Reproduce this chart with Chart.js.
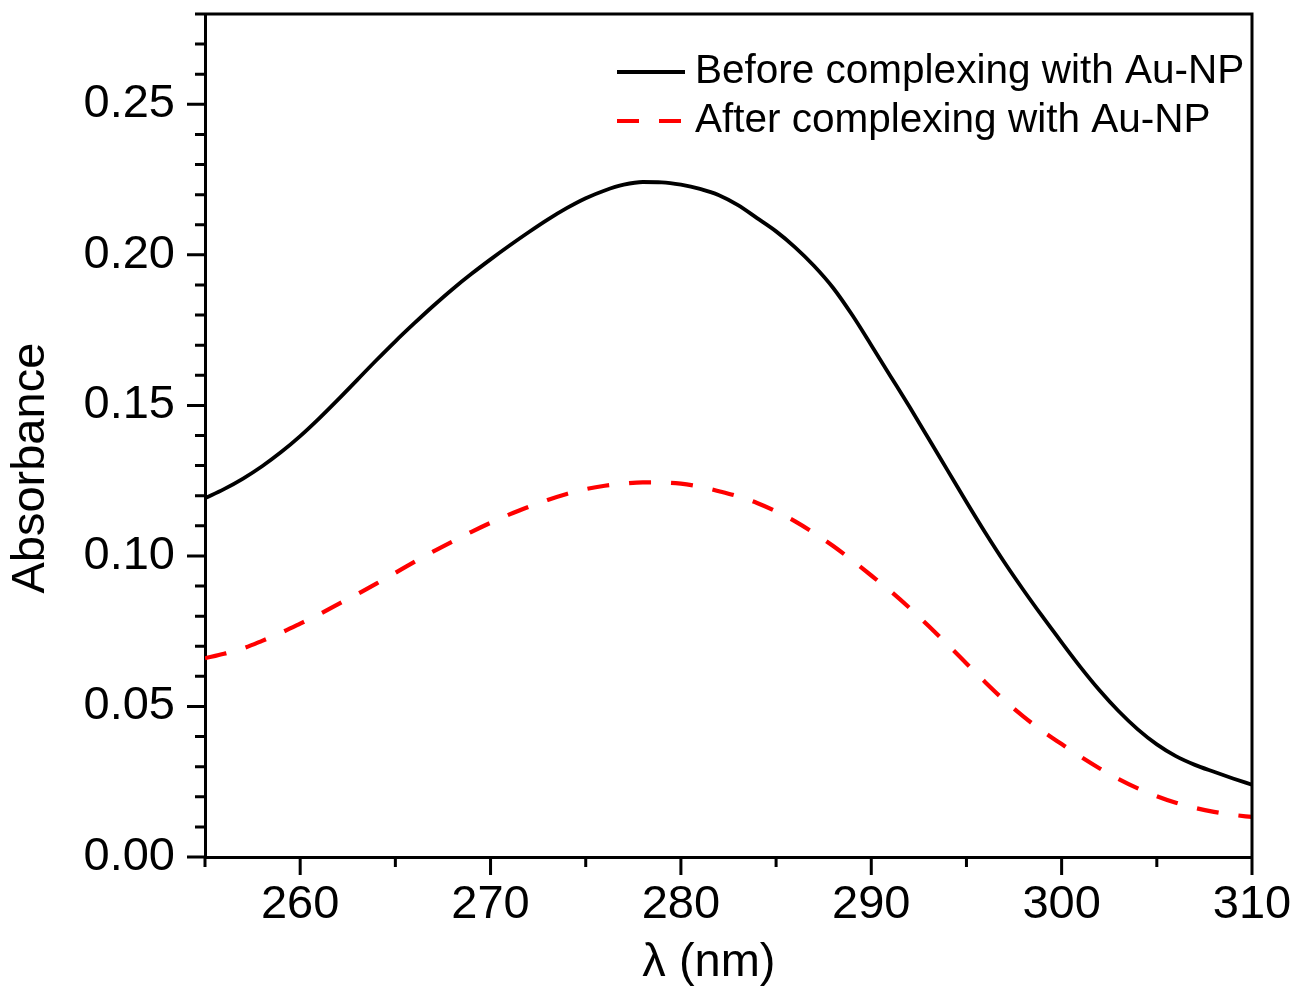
<!DOCTYPE html>
<html>
<head>
<meta charset="utf-8">
<script src="https://cdn.jsdelivr.net/npm/chart.js@4.4.0/dist/chart.umd.min.js"></script>
<style>
html,body{margin:0;padding:0;background:#ffffff;}
#wrap{width:1295px;height:987px;position:relative;}
</style>
</head>
<body>
<div id="wrap"><canvas id="c" width="1295" height="987"></canvas></div>
<script>
// ---- data ----
const wavelengths = [255,256,257,258,259,260,261,262,263,264,265,266,267,268,269,270,271,272,273,274,275,276,277,278,279,280,281,282,283,284,285,286,287,288,289,290,291,292,293,294,295,296,297,298,299,300,301,302,303,304,305,306,307,308,309,310];
const beforeAbs = [0.1192,0.1222,0.1257,0.1298,0.1345,0.1398,0.1457,0.1520,0.1585,0.1650,0.1713,0.1773,0.1831,0.1886,0.1937,0.1985,0.2031,0.2075,0.2117,0.2155,0.2188,0.2214,0.2233,0.2242,0.2241,0.2233,0.2219,0.2198,0.2165,0.2122,0.2078,0.2025,0.1963,0.1890,0.1800,0.1700,0.1598,0.1496,0.1391,0.1285,0.1179,0.1076,0.0978,0.0886,0.0798,0.0713,0.0630,0.0553,0.0484,0.0424,0.0374,0.0335,0.0306,0.0283,0.0261,0.0240];
const afterAbs = [0.0660,0.0675,0.0693,0.0718,0.0745,0.0775,0.0806,0.0840,0.0873,0.0908,0.0944,0.0980,0.1015,0.1048,0.1080,0.1110,0.1138,0.1163,0.1186,0.1206,0.1222,0.1233,0.1240,0.1244,0.1244,0.1240,0.1230,0.1215,0.1198,0.1176,0.1148,0.1115,0.1076,0.1033,0.0985,0.0935,0.0884,0.0828,0.0768,0.0706,0.0643,0.0580,0.0520,0.0466,0.0418,0.0375,0.0333,0.0294,0.0259,0.0228,0.0202,0.0180,0.0163,0.0150,0.0140,0.0133];
const seriesLabels = ['Before complexing with Au-NP', 'After complexing with Au-NP'];
const xTickValues = [260,270,280,290,300,310];
const xMinorTicks = [255,265,275,285,295,305];
const yTickValues = [0.00,0.05,0.10,0.15,0.20,0.25];
const yMinorTicks = [0.01,0.02,0.03,0.04,0.06,0.07,0.08,0.09,0.11,0.12,0.13,0.14,0.16,0.17,0.18,0.19,0.21,0.22,0.23,0.24,0.26,0.27,0.28];
const xTitle = 'λ (nm)   ';
const yTitle = 'Absorbance     ';

const FONT = '"Liberation Sans", Arial, Helvetica, sans-serif';

const frameTicks = {
  id: 'frameTicks',
  afterDraw(chart) {
    const {ctx, chartArea: a, scales: {x, y}} = chart;
    ctx.save();
    ctx.strokeStyle = '#000';
    ctx.lineWidth = 3;
    ctx.lineCap = 'butt';
    ctx.beginPath();
    ctx.moveTo(a.left - 1.5, a.top);
    ctx.lineTo(a.right, a.top);
    ctx.moveTo(a.right, a.top - 1.5);
    ctx.lineTo(a.right, a.bottom);
    // y ticks (outward, left)
    yTickValues.forEach(v => { const p = y.getPixelForValue(v); ctx.moveTo(a.left, p); ctx.lineTo(a.left - 18, p); });
    yMinorTicks.forEach(v => { const p = y.getPixelForValue(v); ctx.moveTo(a.left, p); ctx.lineTo(a.left - 10, p); });
    // x ticks (outward, down)
    xTickValues.forEach(v => { const p = x.getPixelForValue(v); ctx.moveTo(p, a.bottom); ctx.lineTo(p, a.bottom + 18); });
    xMinorTicks.forEach(v => { const p = x.getPixelForValue(v); ctx.moveTo(p, a.bottom); ctx.lineTo(p, a.bottom + 10); });
    ctx.stroke();

    // legend
    const rows = [72, 121];
    chart.data.datasets.forEach((ds, i) => {
      const yy = rows[i];
      ctx.beginPath();
      ctx.strokeStyle = ds.borderColor;
      ctx.lineWidth = ds.borderWidth;
      ctx.setLineDash(ds.borderDash || []);
      ctx.moveTo(617, yy);
      ctx.lineTo(685, yy);
      ctx.stroke();
      ctx.setLineDash([]);
      ctx.fillStyle = '#000';
      ctx.font = '40.5px ' + FONT;
      ctx.textAlign = 'left';
      ctx.textBaseline = 'middle';
      ctx.fillText(ds.label, 695, yy);
    });
    ctx.restore();
  }
};

const zeroPad = s => { s.paddingTop = 0; s.paddingBottom = 0; s.paddingLeft = 0; s.paddingRight = 0; };

new Chart(document.getElementById('c'), {
  type: 'line',
  data: {
    datasets: [
      {
        label: seriesLabels[0],
        data: wavelengths.map((w, i) => ({x: w, y: beforeAbs[i]})),
        borderColor: '#000000',
        borderWidth: 3.8,
        pointRadius: 0,
        cubicInterpolationMode: 'monotone',
        fill: false
      },
      {
        label: seriesLabels[1],
        data: wavelengths.map((w, i) => ({x: w, y: afterAbs[i]})),
        borderColor: '#ff0000',
        borderWidth: 4.2,
        borderDash: [22, 20],
        pointRadius: 0,
        cubicInterpolationMode: 'monotone',
        fill: false
      }
    ]
  },
  options: {
    responsive: false,
    animation: false,
    devicePixelRatio: 1,
    layout: {padding: {left: 0, right: 43, top: 14, bottom: 0}},
    plugins: {legend: {display: false}, tooltip: {enabled: false}},
    scales: {
      x: {
        type: 'linear',
        min: 255, max: 310,
        afterBuildTicks: s => { s.ticks = xTickValues.map(v => ({value: v})); },
        afterFit: s => { s.height = 130; zeroPad(s); },
        grid: {display: false, drawTicks: false, tickLength: 0},
        border: {display: true, color: '#000', width: 3},
        ticks: {color: '#000', padding: 20, font: {family: FONT, size: 47}, maxRotation: 0, autoSkip: false,
                callback: v => String(v)},
        title: {display: true, text: xTitle, color: '#000', font: {family: FONT, size: 47, lineHeight: 1}, padding: {top: 0, bottom: 0}}
      },
      y: {
        type: 'linear',
        min: 0, max: 0.28,
        afterBuildTicks: s => { s.ticks = yTickValues.map(v => ({value: v})); },
        afterFit: s => { s.width = 205; zeroPad(s); },
        grid: {display: false, drawTicks: false, tickLength: 0},
        border: {display: true, color: '#000', width: 3},
        ticks: {color: '#000', padding: 30, font: {family: FONT, size: 47}, autoSkip: false,
                callback: v => Number(v).toFixed(2)},
        title: {display: true, text: yTitle, color: '#000', font: {family: FONT, size: 47, lineHeight: 1}, padding: {top: 8, bottom: 0}}
      }
    }
  },
  plugins: [frameTicks]
});
</script>
</body>
</html>
